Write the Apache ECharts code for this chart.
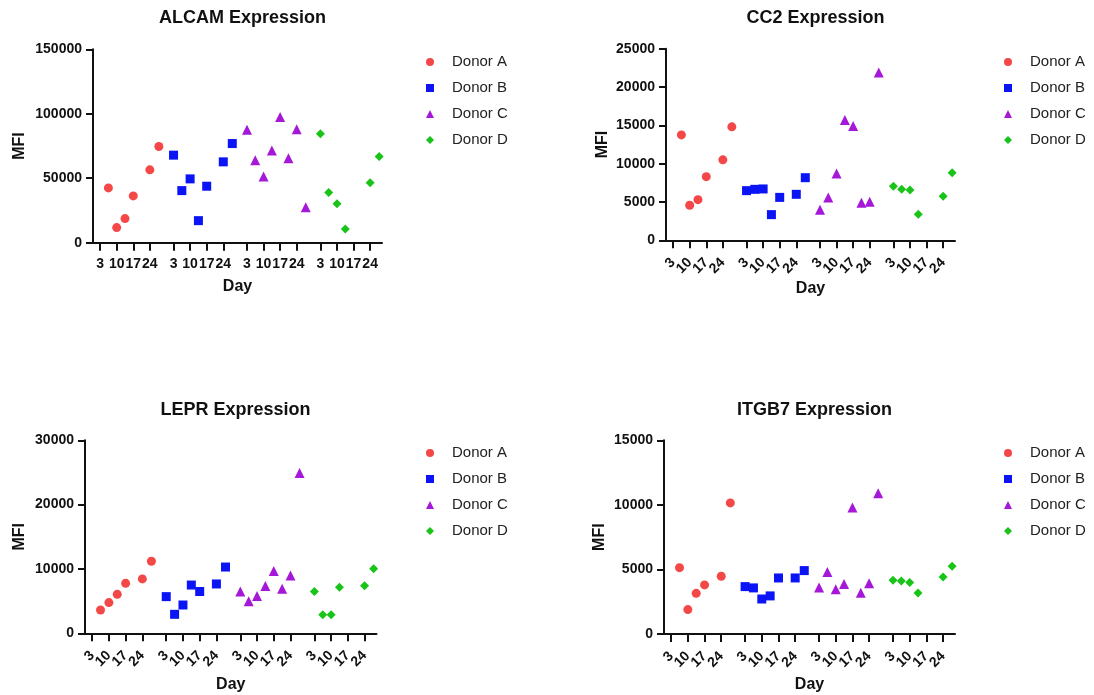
<!DOCTYPE html>
<html>
<head>
<meta charset="utf-8">
<script src="https://cdn.jsdelivr.net/npm/echarts@6/dist/echarts.min.js"></script>
<style>
html,body{margin:0;padding:0;background:#fff;}
#c{width:1094px;height:695px;}
</style>
</head>
<body>
<div id="c"></div>
<script>
// ---- data ----
const donors = ['Donor A', 'Donor B', 'Donor C', 'Donor D'];
const groupOffsets = [0, 31, 62, 93];
const tickDays = [3, 10, 17, 24];
// plotted day positions for each donor
const daysA = [6.5, 10, 13.5, 17, 24, 27.8];
const daysB = [3, 6.5, 10, 13.5, 17, 24, 27.8];
const daysC = [3, 6.5, 10, 13.5, 17, 20.5, 24, 27.8];
const daysD = [3, 6.5, 10, 13.5, 24, 27.8];

const panelTitles = ['ALCAM Expression', 'CC2 Expression', 'LEPR Expression', 'ITGB7 Expression'];
const yMax = [150000, 25000, 30000, 15000];
const yStep = [50000, 5000, 10000, 5000];

const alcamA = [42500, 11700, 18700, 36300, 56500, 74600];
const alcamB = [67900, 40400, 49500, 17100, 43800, 62700, 76900];
const alcamC = [87600, 64000, 51300, 71500, 97400, 65500, 88000, 27500];
const alcamD = [84500, 38900, 30300, 10600, 46400, 66800];

const cc2A = [13750, 4570, 5300, 8300, 10500, 14800];
const cc2B = [6480, 6650, 6700, 3350, 5600, 6000, 8170];
const cc2C = [4000, 5600, 8700, 15700, 14900, 4900, 5040, 21900];
const cc2D = [7040, 6650, 6550, 3400, 5740, 8830];

const leprA = [3630, 4770, 6060, 7770, 8450, 11200];
const leprB = [5700, 2950, 4400, 7500, 6500, 7670, 10300];
const leprC = [6500, 5000, 5800, 7360, 9700, 6940, 9000, 24900];
const leprD = [6500, 2900, 2900, 7150, 7400, 10050];

const itgb7A = [5140, 1890, 3150, 3800, 4470, 10150];
const itgb7B = [3670, 3570, 2710, 2950, 4340, 4340, 4910];
const itgb7C = [3600, 4800, 3460, 3880, 9800, 3200, 3930, 10900];
const itgb7D = [4160, 4100, 3980, 3180, 4420, 5250];

const panelValues = [
  [alcamA, alcamB, alcamC, alcamD],
  [cc2A, cc2B, cc2C, cc2D],
  [leprA, leprB, leprC, leprD],
  [itgb7A, itgb7B, itgb7C, itgb7D]
];
const donorDays = [daysA, daysB, daysC, daysD];

// ---- styling ----
const colors = ['#F44848', '#0A14F5', '#A518D8', '#18C418'];
const symbols = ['circle', 'rect', 'triangle', 'diamond'];
const symbolSizes = [9, 9, 10, 9];
const FONT = 'Arial, "Liberation Sans", sans-serif';
const X_MIN = 0, X_MAX = 122;

const grids = [
  {left: 93, top: 49.3, width: 289, height: 193.4},
  {left: 666, top: 48.7, width: 289, height: 191.6},
  {left: 85, top: 440.3, width: 291.5, height: 193},
  {left: 664, top: 440.3, width: 291, height: 193.7}
];
const titlePos = [[237.5, 4], [810.5, 4], [230.5, 396], [809.5, 396]];
const legendPos = [[426, 54], [1004, 54], [426, 445], [1004, 445]];
const yNameGap = [65, 55, 57, 56];
const xNameGap = [36, 40, 43, 43];
const xRotate = [0, 45, 45, 45];

const tickVals = [];
groupOffsets.forEach(o => tickDays.forEach(d => tickVals.push(o + d)));
// label positions with empty guard labels at both ends
const labelVals = [X_MIN].concat(tickVals, [X_MAX]);
function tickLabel(v) {
  for (const o of groupOffsets) {
    const d = Math.round((v - o) * 1000) / 1000;
    if (tickDays.includes(d)) return String(d);
  }
  return '';
}

const xAxes = [];
grids.forEach((g, i) => {
  xAxes.push({
    type: 'value', gridIndex: i, min: X_MIN, max: X_MAX, position: 'bottom',
    name: 'Day', nameLocation: 'middle', nameGap: xNameGap[i],
    nameTextStyle: {fontFamily: FONT, fontWeight: 'bold', fontSize: 16, color: '#111'},
    axisLine: {show: true, onZero: false, lineStyle: {color: '#111', width: 2}},
    axisTick: {show: true, length: 8, lineStyle: {color: '#111', width: 2}, customValues: tickVals},
    axisLabel: {show: false},
    splitLine: {show: false}
  });
});
grids.forEach((g, i) => {
  xAxes.push({
    type: 'value', gridIndex: i, min: X_MIN, max: X_MAX, position: 'bottom',
    axisLine: {show: false, onZero: false},
    axisTick: {show: false},
    axisLabel: {customValues: labelVals, formatter: tickLabel, rotate: xRotate[i], margin: i === 0 ? 14 : 20,
      showMinLabel: false, showMaxLabel: false,
      fontFamily: FONT, fontWeight: 'bold', fontSize: 14, color: '#111'},
    splitLine: {show: false}
  });
});

const option = {
  backgroundColor: '#fff',
  animation: false,
  title: panelTitles.map((t, i) => ({
    text: t, left: titlePos[i][0], top: titlePos[i][1], textAlign: 'center',
    textStyle: {fontFamily: FONT, fontWeight: 'bold', fontSize: 18, color: '#111'}
  })),
  legend: legendPos.map(p => ({
    orient: 'vertical', left: p[0], top: p[1], padding: 0,
    itemWidth: 8, itemHeight: 8, itemGap: 10,
    textStyle: {fontFamily: FONT, fontSize: 15, color: '#222', lineHeight: 16, padding: [0, 0, 0, 13]},
    data: donors.map((d, k) => ({name: d, icon: symbols[k]}))
  })),
  grid: grids,
  xAxis: xAxes,
  yAxis: grids.map((g, i) => ({
    type: 'value', gridIndex: i, min: 0, max: yMax[i], interval: yStep[i],
    name: 'MFI', nameLocation: 'middle', nameGap: yNameGap[i], nameRotate: 90,
    nameTextStyle: {fontFamily: FONT, fontWeight: 'bold', fontSize: 16, color: '#111'},
    axisLine: {show: true, lineStyle: {color: '#111', width: 2}},
    axisTick: {show: true, length: 7, lineStyle: {color: '#111', width: 2}},
    axisLabel: {margin: 11, formatter: v => String(v), fontFamily: FONT, fontWeight: 'bold', fontSize: 14, color: '#111'},
    splitLine: {show: false}
  })),
  series: []
};

panelValues.forEach((vals, p) => {
  vals.forEach((arr, k) => {
    option.series.push({
      type: 'scatter', name: donors[k], xAxisIndex: p, yAxisIndex: p,
      symbol: symbols[k], symbolSize: symbolSizes[k],
      itemStyle: {color: colors[k], opacity: 1},
      data: arr.map((v, j) => [groupOffsets[k] + donorDays[k][j], v])
    });
  });
});

const chart = echarts.init(document.getElementById('c'), null, {renderer: 'canvas'});
chart.setOption(option);
</script>
</body>
</html>
